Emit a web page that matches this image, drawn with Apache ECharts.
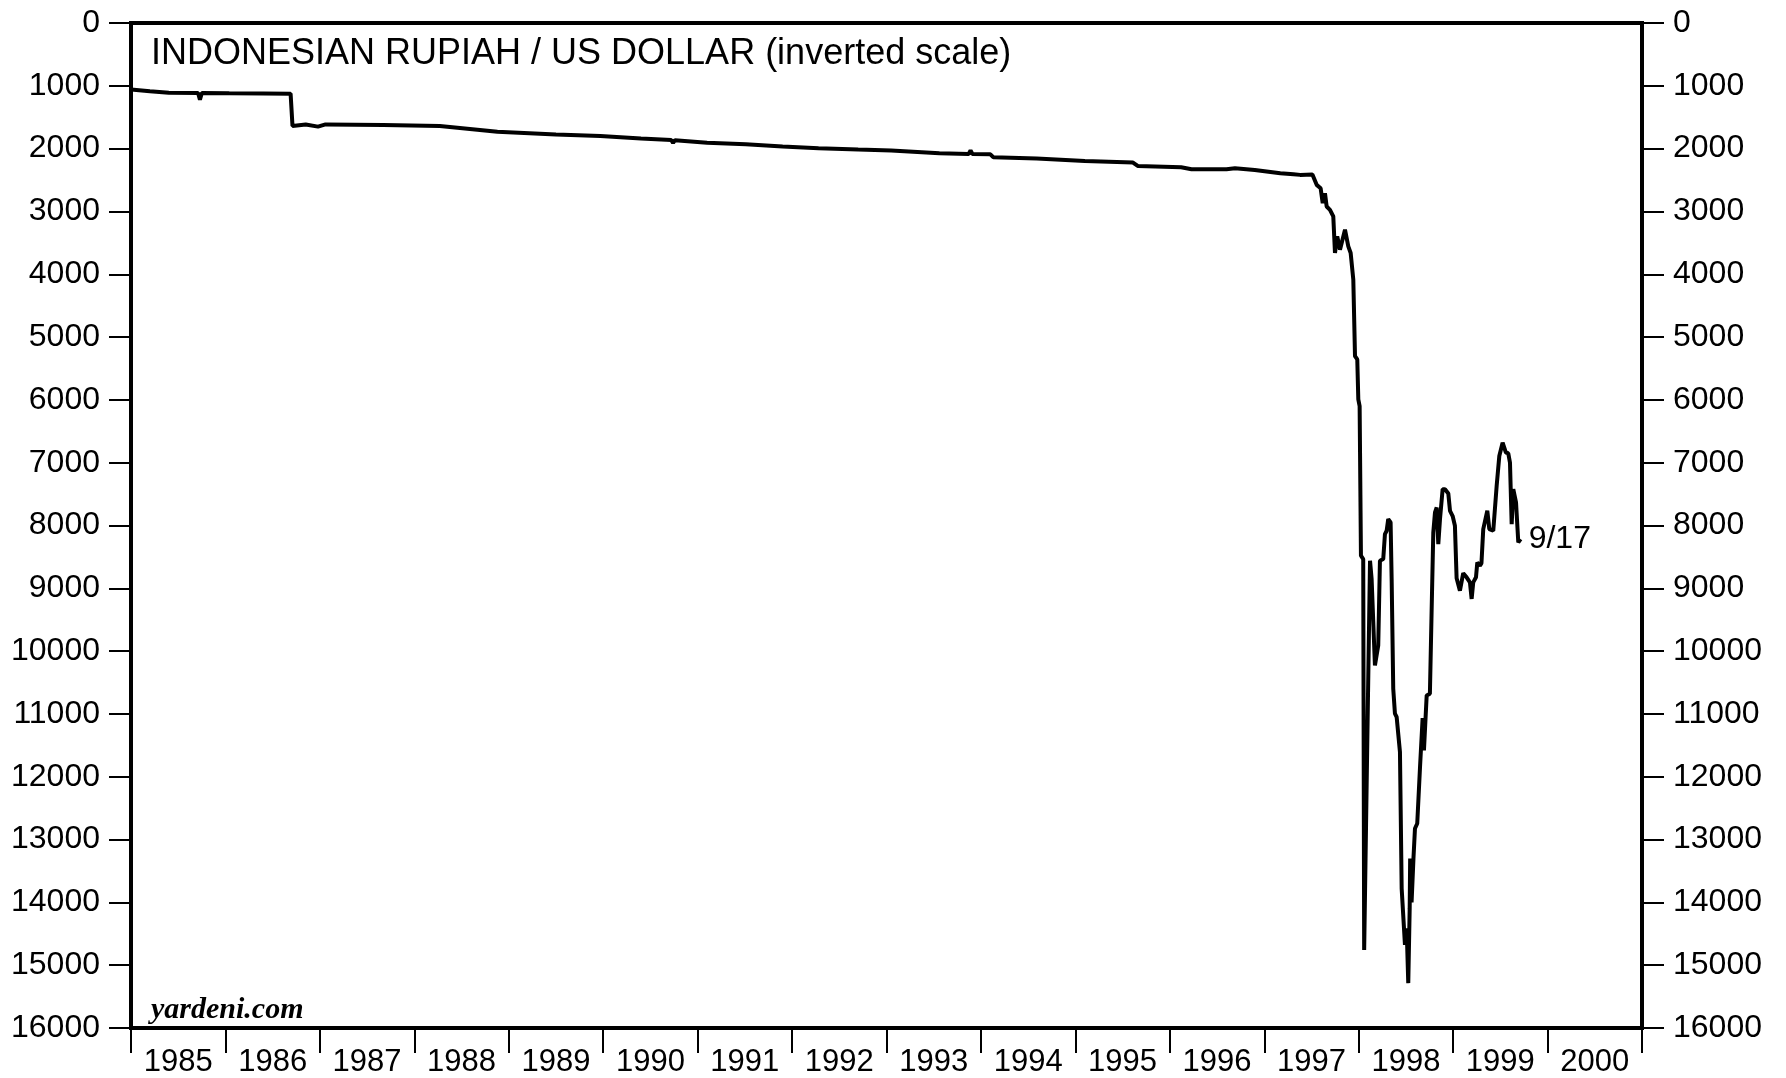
<!DOCTYPE html>
<html>
<head>
<meta charset="utf-8">
<script src="https://cdn.jsdelivr.net/npm/echarts@6/dist/echarts.min.js"></script>
<style>
  html, body { margin: 0; padding: 0; background: #fff; }
  #chart { width: 1786px; height: 1078px; }
</style>
</head>
<body>
<div id="chart"></div>
<script>
// X-axis range (years) and tick labels
var xMin = 1985, xMax = 2001, xStep = 1;
var yearLabels = ['1985','1986','1987','1988','1989','1990','1991','1992','1993','1994','1995','1996','1997','1998','1999','2000'];
// Y-axis range / ticks
var yMin = 0, yMax = 16000, yStep = 1000;
// Observation dates (decimal years)
var dates = [
  1985.00, 1985.20, 1985.40, 1985.71, 1985.73, 1985.75, 1986.04, 1986.40, 1986.69, 1986.71,
  1986.85, 1986.98, 1987.06, 1987.67, 1988.27, 1988.88, 1989.50, 1989.97, 1990.40, 1990.72,
  1990.74, 1990.76, 1991.10, 1991.51, 1991.90, 1992.28, 1992.70, 1993.05, 1993.56, 1993.87,
  1993.89, 1993.91, 1994.10, 1994.13, 1994.59, 1995.10, 1995.61, 1995.66, 1996.12, 1996.23,
  1996.60, 1996.69, 1996.90, 1997.17, 1997.31, 1997.38, 1997.51, 1997.555, 1997.597, 1997.619,
  1997.643, 1997.661, 1997.696, 1997.731, 1997.749, 1997.773, 1997.802, 1997.855, 1997.890, 1997.915,
  1997.943, 1997.961, 1997.985, 1997.996, 1998.010, 1998.024, 1998.048, 1998.058, 1998.120, 1998.137,
  1998.154, 1998.172, 1998.207, 1998.225, 1998.260, 1998.278, 1998.296, 1998.313, 1998.338, 1998.349,
  1998.366, 1998.384, 1998.402, 1998.437, 1998.455, 1998.490, 1998.508, 1998.525, 1998.540, 1998.545,
  1998.560, 1998.580, 1998.596, 1998.620, 1998.649, 1998.677, 1998.691, 1998.720, 1998.754, 1998.772,
  1998.790, 1998.808, 1998.826, 1998.843, 1998.861, 1998.889, 1998.914, 1998.949, 1998.967, 1998.995,
  1999.019, 1999.037, 1999.072, 1999.107, 1999.143, 1999.178, 1999.196, 1999.213, 1999.242, 1999.256,
  1999.284, 1999.300, 1999.319, 1999.362, 1999.383, 1999.425, 1999.461, 1999.489, 1999.524, 1999.559,
  1999.584, 1999.602, 1999.620, 1999.637, 1999.666, 1999.690, 1999.715
];
// Rupiah per US dollar
var rupiah = [
  1057, 1085, 1110, 1115, 1220, 1115, 1120, 1122, 1125, 1639,
  1615, 1650, 1615, 1625, 1640, 1730, 1775, 1800, 1840, 1862,
  1910, 1865, 1905, 1930, 1965, 1994, 2015, 2031, 2074, 2084,
  2031, 2084, 2090, 2137, 2159, 2196, 2222, 2275, 2296, 2328,
  2330, 2312, 2339, 2391, 2408, 2418, 2410, 2577, 2630, 2868,
  2709, 2921, 2974, 3080, 3662, 3397, 3609, 3291, 3556, 3662,
  4086, 5304, 5357, 5992, 6100, 8481, 8534, 14757, 8561, 8851,
  8850, 10229, 9911, 8561, 8534, 8137, 8084, 7898, 7951, 8851,
  10600, 10996, 11049, 11605, 13776, 14677, 14412, 15286, 14100, 13300,
  14000, 13300, 12824, 12744, 11861, 11067, 11580, 10706, 10679, 9381,
  8110, 7793, 7713, 8296, 7898, 7422, 7422, 7490, 7766, 7850,
  8005, 8840, 9038, 8760, 8825, 8905, 9169, 8905, 8825, 8587,
  8640, 8600, 8057, 7766, 8057, 8084, 7369, 6893, 6681, 6840,
  6850, 6998, 7978, 7422, 7633, 8269, 8217
];
var endLabelText = '9/17';
var titleText = 'INDONESIAN RUPIAH / US DOLLAR (inverted scale)';
var sourceText = 'yardeni.com';

var seriesData = dates.map(function (d, i) { return [d, rupiah[i]]; });

var chart = echarts.init(document.getElementById('chart'), null, { renderer: 'canvas' });
var font = 'Liberation Sans, Arial, Helvetica, sans-serif';
var gridLeft = 131, gridRight = 144;
var yearWidth = (1786 - gridLeft - gridRight) / (xMax - xMin);
var yAxisCommon = {
  type: 'value', inverse: true, min: yMin, max: yMax, interval: yStep,
  axisLine: { show: false, onZero: false },
  axisTick: { show: true, inside: false, length: 22, lineStyle: { color: '#000', width: 2 } },
  splitLine: { show: false },
  axisLabel: { color: '#000', fontSize: 32, fontFamily: font, margin: 31, formatter: function (v) { return String(v); } }
};
var option = {
  animation: false,
  backgroundColor: '#fff',
  grid: { left: gridLeft, right: gridRight, top: 23, bottom: 48, show: true, borderColor: '#000', borderWidth: 4, backgroundColor: 'transparent' },
  xAxis: {
    type: 'value', min: xMin, max: xMax, interval: xStep, position: 'bottom',
    axisLine: { show: false, onZero: false },
    axisTick: { show: true, inside: false, length: 25, lineStyle: { color: '#000', width: 2 } },
    axisLabel: {
      color: '#000', fontSize: 31, fontFamily: font, margin: 19, showMaxLabel: true, showMinLabel: true,
      padding: [0, 0, 0, yearWidth],
      formatter: function (v) { var i = Math.round(v - xMin); return i < yearLabels.length ? yearLabels[i] : ''; }
    },
    splitLine: { show: false }
  },
  yAxis: [
    Object.assign({}, yAxisCommon, { position: 'left' }),
    Object.assign({}, yAxisCommon, { position: 'right' })
  ],
  graphic: [
    { type: 'text', left: 151, top: 36, style: { text: titleText, fill: '#000', font: '36px ' + font } },
    { type: 'text', left: 151, top: 995, style: { text: sourceText, fill: '#000', font: 'italic bold 30px "Liberation Serif", "Times New Roman", serif' } }
  ],
  series: [{
    type: 'line', data: seriesData,
    showSymbol: false, symbol: 'none',
    lineStyle: { color: '#000', width: 4 },
    endLabel: { show: true, formatter: endLabelText, color: '#000', fontSize: 32, fontFamily: font, distance: 8 }
  }]
};
chart.setOption(option);
</script>
</body>
</html>
